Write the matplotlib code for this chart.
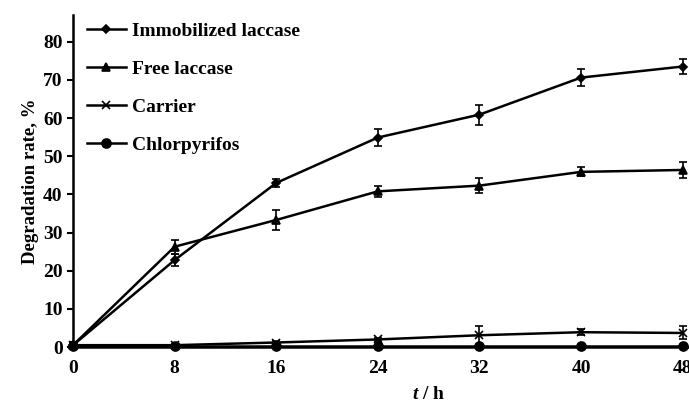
import matplotlib
matplotlib.use("Agg")
import matplotlib.pyplot as plt
from matplotlib.lines import Line2D

# degradation of chlorpyrifos over time (mean ± SD)
hours = [0, 8, 16, 24, 32, 40, 48]

immobilized = [0.5, 22.8, 43.0, 54.9, 60.9, 70.6, 73.5]
immobilized_err = [0.8, 1.5, 1.0, 2.2, 2.6, 2.2, 2.0]

free = [0.5, 26.3, 33.3, 40.8, 42.3, 45.9, 46.4]
free_err = [0.8, 1.8, 2.7, 1.5, 1.9, 1.2, 2.1]

carrier = [0.5, 0.5, 1.2, 2.0, 3.1, 3.9, 3.7]
carrier_err = [0.3, 0.3, 0.4, 0.5, 2.4, 0.8, 1.7]

chlorpyrifos = [0.3, 0.3, 0.3, 0.3, 0.3, 0.3, 0.3]

labels = ["Immobilized laccase", "Free laccase", "Carrier", "Chlorpyrifos"]
markers = ["D", "^", "x", "o"]
sizes = [4.5, 6, 6, 6.5]

plt.rcParams["font.family"] = ["Liberation Serif", "DejaVu Serif"]
plt.rcParams["font.weight"] = "bold"
plt.rcParams["mathtext.fontset"] = "custom"
plt.rcParams["mathtext.it"] = "Liberation Serif:italic:bold"
plt.rcParams["mathtext.rm"] = "Liberation Serif:bold"

fig = plt.figure(figsize=(6.89, 4.05), dpi=100)
ax = fig.add_axes([0.106, 0.143, 0.894, 0.82])

common = dict(color="black", lw=1.8, capsize=3, elinewidth=1.2, capthick=1.2,
              clip_on=False)
series = [(immobilized, immobilized_err), (free, free_err),
          (carrier, carrier_err), (chlorpyrifos, None)]
for (vals, err), m, s in zip(series, markers, sizes):
    ax.errorbar(hours, vals, yerr=err, marker=m, ms=s, mew=1.2, **common)

ax.set_xlim(0, 48.5)
ax.set_ylim(0, 87)
ax.set_xticks(hours)
ax.set_yticks(range(0, 81, 10))
ax.tick_params(axis="x", length=0, pad=9, labelsize=14)
ax.tick_params(axis="y", direction="out", length=4, width=1.5, labelsize=14)
for s in ["top", "right"]:
    ax.spines[s].set_visible(False)
for s in ["left", "bottom"]:
    ax.spines[s].set_linewidth(1.8)

ax.set_ylabel("Degradation rate, %", fontsize=13.5, fontweight="bold", labelpad=3)
fig.text(429 / 689, 2 / 405, r"$\mathit{t}$ / h", fontsize=14,
         fontweight="bold", ha="center", va="bottom")

handles = [Line2D([], [], color="black", lw=1.8, marker=m, ms=s, mew=1.2)
           for m, s in zip(markers, sizes)]
ax.legend(handles, labels, loc="upper left", bbox_to_anchor=(0.0, 1.02),
          frameon=False, fontsize=14, handlelength=2.0, labelspacing=1.05,
          handletextpad=0.35, borderaxespad=0.3)

fig.savefig("out.png", dpi=100)
